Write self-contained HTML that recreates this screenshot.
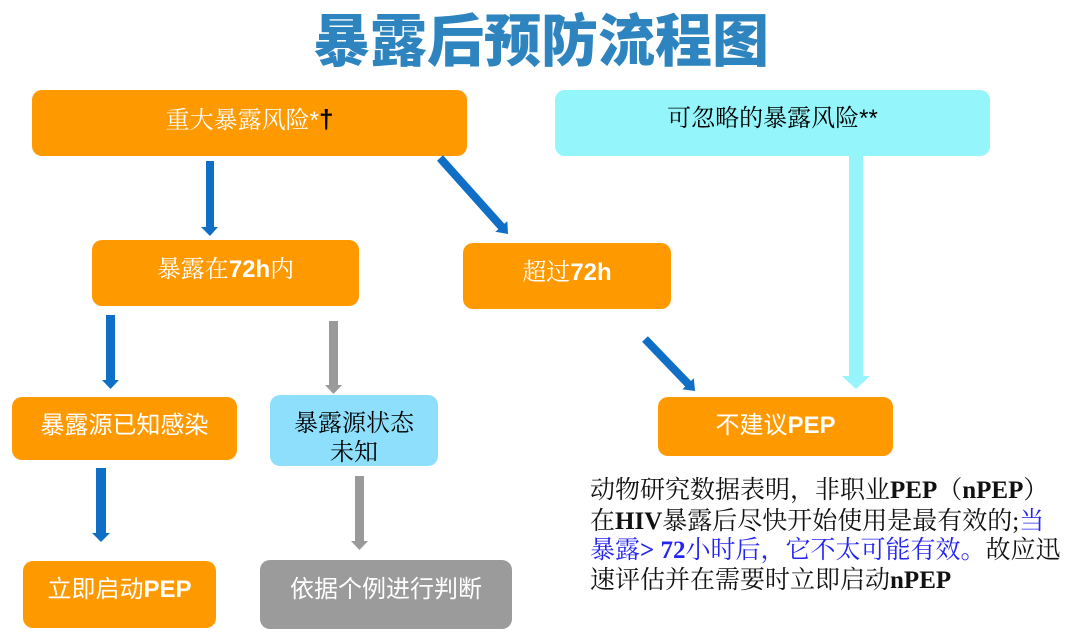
<!DOCTYPE html>
<html><head><meta charset="utf-8">
<style>
html,body{margin:0;padding:0;background:#fff;}
#c{position:relative;width:1080px;height:643px;overflow:hidden;background:#fff;}
.b{position:absolute;border-radius:10px;}
.t{position:absolute;white-space:nowrap;text-align:center;font-size:24px;line-height:30px;}
.serif{font-family:"Liberation Serif","Noto Serif CJK SC",serif;}
.sans{font-family:"Liberation Sans","Noto Sans CJK SC",sans-serif;}
.lb{font-family:"Liberation Sans",sans-serif;font-weight:bold;}
.p{position:absolute;left:590px;white-space:nowrap;font-family:"Liberation Serif","Noto Serif CJK SC",serif;font-size:25px;line-height:30px;color:#111;}
.p b{font-family:"Liberation Serif",serif;font-weight:bold;}
.bl{color:#2525F0;}
</style></head><body><div id="c">

<div style="position:absolute;left:313px;top:9px;font-family:'Noto Sans CJK SC','WenQuanYi Zen Hei',sans-serif;font-weight:900;font-size:57px;line-height:57px;color:#2E84BE;white-space:nowrap;">暴露后预防流程图</div>

<!-- boxes -->
<div class="b" style="left:32px;top:90px;width:435px;height:66px;background:#FF9900;"></div>
<div class="b" style="left:555px;top:90px;width:435px;height:66px;background:#94F5FA;"></div>
<div class="b" style="left:92px;top:240px;width:267px;height:66px;background:#FF9900;"></div>
<div class="b" style="left:463px;top:243px;width:208px;height:66px;background:#FF9900;"></div>
<div class="b" style="left:658px;top:397px;width:235px;height:59px;background:#FF9900;"></div>
<div class="b" style="left:12px;top:397px;width:225px;height:63px;background:#FF9900;"></div>
<div class="b" style="left:270px;top:395px;width:168px;height:71px;background:#8EDFFC;"></div>
<div class="b" style="left:23px;top:561px;width:193px;height:67px;background:#FF9900;"></div>
<div class="b" style="left:260px;top:560px;width:252px;height:69px;background:#9B9B9B;"></div>

<!-- labels -->
<div class="t serif" style="left:32px;width:435px;top:104px;color:#fff;">重大暴露风险<span class="lb" style="font-weight:normal">*</span><span class="lb" style="color:#000;font-size:26px;">†</span></div>
<div class="t serif" style="left:555px;width:435px;top:104px;color:#000;">可忽略的暴露风险<span class="lb" style="font-weight:normal">**</span></div>
<div class="t serif" style="left:92px;width:267px;top:255px;color:#fff;">暴露在<span class="lb">72h</span>内</div>
<div class="t serif" style="left:463px;width:208px;top:258px;color:#fff;">超过<span class="lb">72h</span></div>
<div class="t sans" style="left:658px;width:235px;top:411px;color:#fff;">不建议<span class="lb">PEP</span></div>
<div class="t sans" style="left:12px;width:225px;top:411px;color:#fff;">暴露源已知感染</div>
<div class="t serif" style="left:270px;width:168px;top:410px;color:#000;line-height:29px;">暴露源状态<br>未知</div>
<div class="t sans" style="left:23px;width:193px;top:575px;color:#fff;">立即启动<span class="lb">PEP</span></div>
<div class="t sans" style="left:260px;width:252px;top:575px;color:#fff;">依据个例进行判断</div>

<!-- arrows -->
<svg width="1080" height="643" style="position:absolute;left:0;top:0;">
<polygon fill="#0F6EC6" points="206,161 214,161 214,227 218,227 210,236 201,227 206,227"/>
<polygon fill="#0F6EC6" points="437.0,160.7 443.0,155.3 504.3,223.8 507.3,221.2 508,234 495.3,231.8 498.3,229.2"/>
<polygon fill="#0F6EC6" points="642.1,341.8 647.9,336.2 691.0,381.0 693.8,378.3 695,391 682.3,389.3 685.2,386.6"/>
<polygon fill="#97F4FA" points="849,156 863,156 863,376 870,376 856,389 842,376 849,376"/>
<polygon fill="#0F6EC6" points="106,315 115,315 115,380 119,380 110.5,389 102,380 106,380"/>
<polygon fill="#9A9A9A" points="329,321 338,321 338,385 342,385 333.5,394 325,385 329,385"/>
<polygon fill="#0F6EC6" points="96,468 106,468 106,533 110,533 101,542 92,533 96,533"/>
<polygon fill="#9A9A9A" points="355,476 364,476 364,541 368,541 359.5,550 351,541 355,541"/>
</svg>

<!-- paragraph -->
<div class="p" style="top:476px;">动物研究数据表明，非职业<b>PEP</b>（<b>nPEP</b>）</div>
<div class="p" style="top:507px;">在<b>HIV</b>暴露后尽快开始使用是最有效的;<span class="bl">当</span></div>
<div class="p" style="top:536px;"><span class="bl">暴露<b>&gt; 72</b>小时后，它不太可能有效。</span>故应迅</div>
<div class="p" style="top:566px;">速评估并在需要时立即启动<b>nPEP</b></div>

</div></body></html>
